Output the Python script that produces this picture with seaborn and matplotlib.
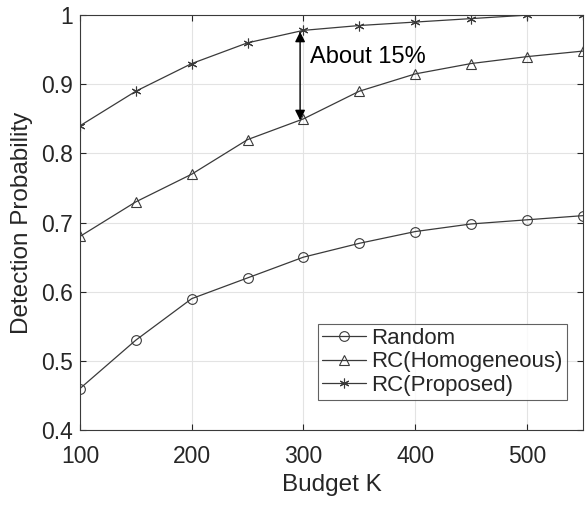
import pandas as pd
import matplotlib
matplotlib.use("Agg")
import matplotlib.pyplot as plt
import seaborn as sns

budget = [100, 150, 200, 250, 300, 350, 400, 450, 500, 550]
random_pd = [0.46, 0.53, 0.59, 0.62, 0.65, 0.67, 0.687, 0.698, 0.704, 0.71]
rc_homog = [0.68, 0.73, 0.77, 0.82, 0.85, 0.89, 0.915, 0.93, 0.94, 0.948]
rc_proposed = [0.84, 0.89, 0.93, 0.96, 0.978, 0.985, 0.99, 0.995, 1.0, 1.0]

series = {
    "Random": (random_pd, "o"),
    "RC(Homogeneous)": (rc_homog, "^"),
    "RC(Proposed)": (rc_proposed, (6, 2, 0)),
}

sns.set_style("whitegrid")
plt.rcParams["font.family"] = ["Liberation Sans", "DejaVu Sans"]

fig = plt.figure(figsize=(5.86, 5.05), dpi=100)
ax = fig.add_axes([0.1365, 0.1485, 0.858, 0.8215])

line_col = "#3a3a3a"
for name, (vals, mk) in series.items():
    df = pd.DataFrame({"Budget K": budget, "Detection Probability": vals})
    sns.lineplot(data=df, x="Budget K", y="Detection Probability", ax=ax,
                 color=line_col, linewidth=0.9, marker=mk, markersize=7,
                 markerfacecolor="none", markeredgecolor=line_col,
                 markeredgewidth=0.8, label=name)

ax.set_xlim(100, 550)
ax.set_ylim(0.4, 1.0)
ax.set_xticks([100, 200, 300, 400, 500])
ax.set_yticks([0.4, 0.5, 0.6, 0.7, 0.8, 0.9, 1.0])
ax.set_yticklabels(["0.4", "0.5", "0.6", "0.7", "0.8", "0.9", "1"])
ax.tick_params(labelsize=16.5, colors="#262626", direction="in", length=4,
               left=True, bottom=True, right=True, top=True)
ax.tick_params(axis="x", pad=11)
ax.tick_params(axis="y", pad=5)
ax.xaxis.set_ticks_position("both")
ax.yaxis.set_ticks_position("both")
ax.grid(True, color="#e3e3e3", linewidth=0.8)
for sp in ax.spines.values():
    sp.set_color("#3a3a3a")
    sp.set_linewidth(0.8)
ax.set_xlabel("Budget K", fontsize=17.5, color="#262626", labelpad=4)
ax.set_ylabel("Detection Probability", fontsize=17.5, color="#262626", labelpad=6)

ax.annotate("", xy=(297, 0.848), xytext=(297, 0.976),
            arrowprops=dict(arrowstyle="<|-|>", color="black", lw=1.0,
                            mutation_scale=15, shrinkA=0, shrinkB=0))
ax.text(306, 0.94, "About 15%", fontsize=17, color="black", va="center")

leg = ax.legend(loc="lower right", bbox_to_anchor=(0.968, 0.072), fontsize=16,
                frameon=True, fancybox=False, handlelength=2.0,
                handletextpad=0.2, borderpad=0.2, labelspacing=0.1,
                borderaxespad=0)
leg.get_frame().set_edgecolor("#3a3a3a")
leg.get_frame().set_linewidth(0.8)

fig.savefig("out.png", dpi=100)
